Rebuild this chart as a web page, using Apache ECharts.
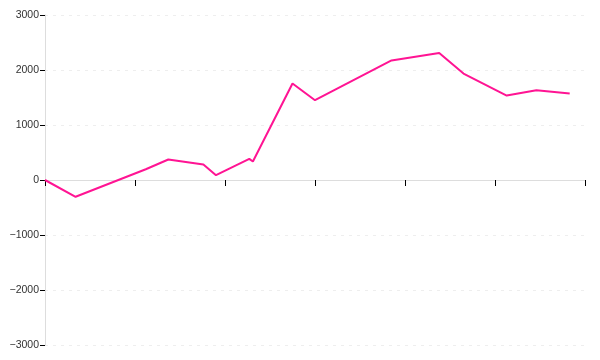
<!DOCTYPE html>
<html>
<head>
<meta charset="utf-8">
<script src="https://cdn.jsdelivr.net/npm/echarts@6/dist/echarts.min.js"></script>
<style>html,body{margin:0;padding:0;background:#fff;}#c{width:600px;height:360px;}</style>
</head>
<body>
<div id="c"></div>
<script>
const xValues = [0, 0.34, 1.12, 1.37, 1.76, 1.90, 2.27, 2.31, 2.75, 3.0, 3.85, 4.38, 4.65, 5.13, 5.46, 5.83];
const yValues = [0, -305, 196, 373, 282, 87, 385, 336, 1755, 1451, 2173, 2310, 1936, 1536, 1633, 1573];
const yTicks = [-3000, -2000, -1000, 0, 1000, 2000, 3000];

const chart = echarts.init(document.getElementById('c'), null, {renderer: 'canvas'});
chart.setOption({
  animation: false,
  grid: {left: 45, right: 15, top: 15, bottom: 15, containLabel: false},
  xAxis: {
    type: 'value', min: 0, max: 6, interval: 1,
    axisLine: {onZero: true, lineStyle: {color: '#dddddd', width: 1}},
    axisTick: {show: true, length: 6, lineStyle: {color: '#000'}},
    axisLabel: {show: false},
    splitLine: {show: false}
  },
  yAxis: {
    type: 'value', min: yTicks[0], max: yTicks[yTicks.length - 1], interval: 1000,
    axisLine: {show: true, lineStyle: {color: '#dddddd', width: 1}},
    axisTick: {show: true, length: 5, lineStyle: {color: '#000'}},
    axisLabel: {
      color: '#333', fontSize: 10.5, margin: 6,
      fontFamily: 'Liberation Sans, Arial, sans-serif',
      formatter: v => String(v).replace('-', '\u2212')
    },
    splitLine: {show: true, lineStyle: {color: '#eeeeee', type: [3, 5]}}
  },
  series: [{
    type: 'line',
    data: xValues.map((x, i) => [x, yValues[i]]),
    showSymbol: false,
    lineStyle: {color: '#ff1493', width: 2},
    itemStyle: {color: '#ff1493'}
  }]
});
</script>
</body>
</html>
